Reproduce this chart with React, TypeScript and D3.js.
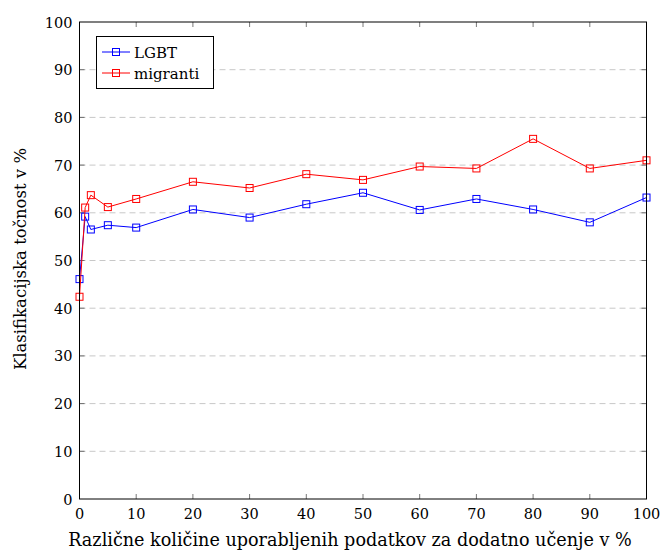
import React, { useEffect, useRef } from 'react'
import * as d3 from 'd3'

const shares = [0, 1, 2, 5, 10, 20, 30, 40, 50, 60, 70, 80, 90, 100]
const lgbt = [46.1, 59.2, 56.5, 57.4, 56.9, 60.7, 59.0, 61.8, 64.2, 60.6, 62.9, 60.7, 58.0, 63.2]
const migranti = [42.4, 61.1, 63.7, 61.2, 62.9, 66.5, 65.2, 68.1, 66.9, 69.7, 69.3, 75.5, 69.3, 71.0]
const seriesNames = ['LGBT', 'migranti']
const xTicks = [0, 10, 20, 30, 40, 50, 60, 70, 80, 90, 100]
const yTicks = [0, 10, 20, 30, 40, 50, 60, 70, 80, 90, 100]
const xTitle = 'Različne količine uporabljenih podatkov za dodatno učenje v %'
const yTitle = 'Klasifikacijska točnost v %'

export default function App() {
  const ref = useRef<SVGSVGElement>(null)

  useEffect(() => {
    const el = ref.current
    if (!el) return
    const svg = d3.select(el)
    svg.selectAll('*').remove()
    const font = 'DejaVu Serif'
    const L = 79.5, R = 646.5, T = 22, B = 499

    const x = d3.scaleLinear().domain([0, 100]).range([L, R])
    const y = d3.scaleLinear().domain([0, 100]).range([B, T])

    // grid
    svg.append('g').selectAll('line').data(yTicks.slice(1, -1)).join('line')
      .attr('x1', L).attr('x2', R).attr('y1', d => y(d)).attr('y2', d => y(d))
      .attr('stroke', '#c8c8c8').attr('stroke-dasharray', '6,4').attr('stroke-width', 1)

    // inward ticks on all sides
    const tk = svg.append('g').attr('stroke', '#555').attr('stroke-width', 0.8)
    xTicks.slice(1, -1).forEach(v => {
      tk.append('line').attr('x1', x(v)).attr('x2', x(v)).attr('y1', B).attr('y2', B - 5)
      tk.append('line').attr('x1', x(v)).attr('x2', x(v)).attr('y1', T).attr('y2', T + 5)
    })
    yTicks.slice(1, -1).forEach(v => {
      tk.append('line').attr('x1', L).attr('x2', L + 5).attr('y1', y(v)).attr('y2', y(v))
      tk.append('line').attr('x1', R).attr('x2', R - 5).attr('y1', y(v)).attr('y2', y(v))
    })

    // tick labels
    svg.append('g').selectAll('text').data(xTicks).join('text')
      .attr('x', d => x(d)).attr('y', B + 20).attr('text-anchor', 'middle')
      .attr('font-family', font).attr('font-size', 14.5).text(d => d)
    svg.append('g').selectAll('text').data(yTicks).join('text')
      .attr('x', L - 7).attr('y', d => y(d) + 5.5).attr('text-anchor', 'end')
      .attr('font-family', font).attr('font-size', 14.5).text(d => d)

    // series
    const line = d3.line<[number, number]>().x(d => x(d[0])).y(d => y(d[1]))
    const colors = ['#0000ff', '#ff0000']
    const data = [lgbt, migranti]
    data.forEach((vals, i) => {
      const pts = shares.map((s, j) => [s, vals[j]] as [number, number])
      svg.append('path').attr('d', line(pts)).attr('fill', 'none')
        .attr('stroke', colors[i]).attr('stroke-width', 1)
      svg.append('g').selectAll('rect').data(pts).join('rect')
        .attr('x', d => x(d[0]) - 3.5).attr('y', d => y(d[1]) - 3.5)
        .attr('width', 7).attr('height', 7)
        .attr('fill', 'none').attr('stroke', colors[i]).attr('stroke-width', 1)
    })

    // frame
    svg.append('rect').attr('x', L).attr('y', T).attr('width', R - L).attr('height', B - T)
      .attr('fill', 'none').attr('stroke', '#000').attr('stroke-width', 1)

    // legend
    const lg = svg.append('g')
    lg.append('rect').attr('x', 96.5).attr('y', 36.5).attr('width', 117).attr('height', 52)
      .attr('fill', '#fff').attr('stroke', '#000').attr('stroke-width', 1)
    seriesNames.forEach((name, i) => {
      const cy = 52 + i * 21
      lg.append('line').attr('x1', 102).attr('x2', 130).attr('y1', cy).attr('y2', cy)
        .attr('stroke', colors[i])
      lg.append('rect').attr('x', 112.5).attr('y', cy - 3.5).attr('width', 7).attr('height', 7)
        .attr('fill', 'none').attr('stroke', colors[i])
      lg.append('text').attr('x', 134).attr('y', cy + 5.5).attr('font-family', font)
        .attr('font-size', 15).text(name)
    })

    // axis titles
    svg.append('text').attr('x', 350).attr('y', 546).attr('text-anchor', 'middle')
      .attr('font-family', font).attr('font-size', 17.6).text(xTitle)
    svg.append('text').attr('transform', `translate(26,259) rotate(-90)`)
      .attr('text-anchor', 'middle').attr('font-family', font).attr('font-size', 16.5).text(yTitle)
  }, [])

  return <svg ref={ref} width={662} height={551} style={{ position: 'absolute', left: 0, top: 0 }} />
}
